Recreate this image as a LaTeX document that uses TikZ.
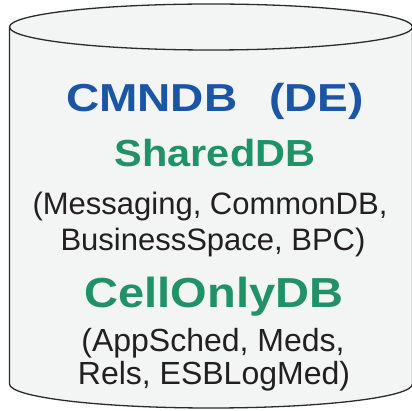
\documentclass[tikz,border=0pt]{standalone}
\usepackage{fontspec}
\setmainfont{Liberation Sans}
\newfontfamily\bluewide[FakeStretch=1.18]{Liberation Sans}
\newfontfamily\sharedwide[FakeStretch=1.10]{Liberation Sans}
\newfontfamily\cellwide[FakeStretch=1.12]{Liberation Sans}
\definecolor{dbblue}{HTML}{1A56A5}
\definecolor{dbgreen}{HTML}{219168}
\definecolor{dbtext}{HTML}{231F20}
\definecolor{dbfill}{HTML}{F3F5F5}
\definecolor{dbline}{HTML}{2B2B2B}
\tikzset{
  lbl/.style={anchor=base, inner sep=0pt, text=dbtext},
  cyl/.style={draw=dbline, line width=1.3pt},
}
\begin{document}
\begin{tikzpicture}[x=1pt,y=1pt]
\useasboundingbox (0,0) rectangle (412,410);
\clip (0,0) rectangle (412,410);
% cylinder body
\fill[dbfill] (9.5,383) -- (9.5,26) arc[start angle=180, end angle=360, x radius=201.5, y radius=24] -- (412.5,383) -- cycle;
\fill[dbfill] (211,383) ellipse[x radius=201.5, y radius=23];
\draw[cyl] (9.5,383) -- (9.5,26) arc[start angle=180, end angle=360, x radius=201.5, y radius=24] -- (412.5,383);
\draw[cyl] (211,383) ellipse[x radius=201.5, y radius=23];
% texts
\node[lbl, text=dbblue] (title) at (215,298) {\bluewide\bfseries\fontsize{39}{39}\selectfont CMNDB\hspace{32pt}(DE)};
\node[lbl, text=dbgreen] (shared) at (215,243) {\sharedwide\bfseries\fontsize{37.7}{37.7}\selectfont SharedDB};
\node[lbl] (sh1) at (210,195) {\fontsize{31}{31}\selectfont (Messaging, CommonDB,};
\node[lbl] (sh2) at (213,160) {\fontsize{31}{31}\selectfont BusinessSpace, BPC)};
\node[lbl, text=dbgreen] (cell) at (214,103) {\cellwide\bfseries\fontsize{42}{42}\selectfont CellOnlyDB};
\node[lbl] (c1) at (213,59) {\fontsize{32}{32}\selectfont (AppSched, Meds,};
\node[lbl] (c2) at (214,26) {\fontsize{32}{32}\selectfont Rels, ESBLogMed)};
\end{tikzpicture}
\end{document}
